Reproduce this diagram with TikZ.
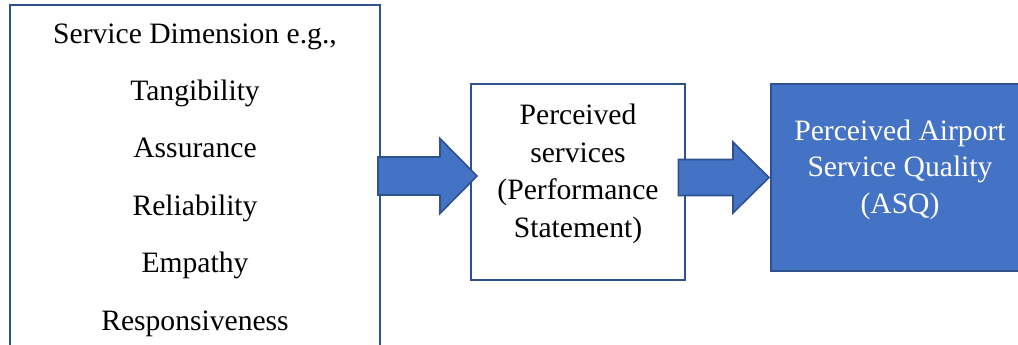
\documentclass[tikz,border=0pt]{standalone}
\usepackage{fontspec}
\setmainfont{Liberation Serif}
\usetikzlibrary{calc}

\definecolor{asqblue}{RGB}{68,114,196}
\definecolor{asqline}{RGB}{47,82,143}

\begin{document}
\begin{tikzpicture}[x=0.75pt, y=-0.75pt,
  plainbox/.style={draw=asqline, line width=1pt, fill=white, inner sep=0, outer sep=0},
  asqbox/.style={draw=asqline, line width=1.6pt, fill=asqblue, inner sep=0, outer sep=0},
  dimtext/.style={font=\fontsize{22.2}{28}\selectfont, anchor=base, inner sep=0},
  boxtext/.style={font=\fontsize{22.2}{28.1}\selectfont, align=center, inner sep=0},
  fatarrow/.style={fill=asqblue, draw=asqline, line width=1.2pt, line join=miter}]
  \useasboundingbox (0,0) rectangle (1018,344);
  \clip (0,0) rectangle (1018,344);

  % boxes
  \node[plainbox, minimum width=277.5pt, minimum height=266.25pt] (dimbox) at (195,182.5) {};
  \node[plainbox, minimum width=160.5pt, minimum height=147pt] (perc) at (578,182) {};
  \node[asqbox, minimum width=194.25pt, minimum height=140.25pt] (asq) at (900.5,177.5) {};

  % service dimensions
  \foreach \txt [count=\i] in {{Service Dimension e.g.,}, Tangibility, Assurance, Reliability, Empathy, Responsiveness}
    \node[dimtext] (d\i) at (195, {43+57.4*(\i-1)}) {\txt};

  \node[boxtext] (perctext) at (578,174) {Perceived\\services\\(Performance\\Statement)};
  \node[boxtext, text=white, font=\fontsize{22.2}{27.4}\selectfont] (asqtext) at (900,169.5) {Perceived Airport\\Service Quality\\(ASQ)};

  % block arrows
  \coordinate (m1) at (0,176);
  \draw[fatarrow] let \p1=(dimbox.east), \p2=(perc.west), \p3=(m1) in
    ({\x1-1.5pt},{\y3+14.25pt}) -- ({\x2-23.25pt},{\y3+14.25pt}) -- ({\x2-23.25pt},{\y3+28.1pt})
    -- ({\x2+4.5pt},\y3) -- ({\x2-23.25pt},{\y3-28.1pt}) -- ({\x2-23.25pt},{\y3-14.25pt})
    -- ({\x1-1.5pt},{\y3-14.25pt}) -- cycle;
  \draw[fatarrow] let \p1=(perc.east), \p2=(asq.west) in
    ({\x1-5pt},{\y2+13.5pt}) -- ({\x2-28.5pt},{\y2+13.5pt}) -- ({\x2-28.5pt},{\y2+26.6pt})
    -- ({\x2-1.5pt},\y2) -- ({\x2-28.5pt},{\y2-26.6pt}) -- ({\x2-28.5pt},{\y2-13.5pt})
    -- ({\x1-5pt},{\y2-13.5pt}) -- cycle;
\end{tikzpicture}
\end{document}
